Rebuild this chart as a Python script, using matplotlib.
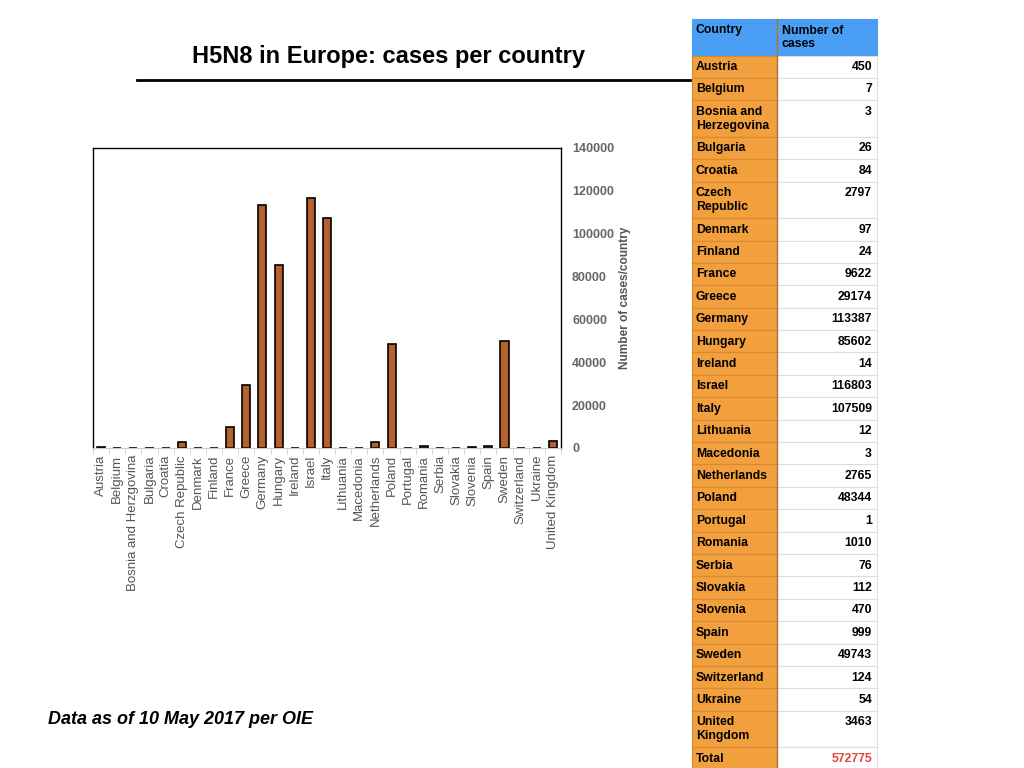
import matplotlib.pyplot as plt
from matplotlib.patches import Rectangle
import numpy as np

plt.rcParams['font.family'] = ['Liberation Sans', 'DejaVu Sans']

# chart data
countries = ["Austria", "Belgium", "Bosnia and Herzgovina", "Bulgaria", "Croatia",
             "Czech Republic", "Denmark", "Finland", "France", "Greece", "Germany",
             "Hungary", "Ireland", "Israel", "Italy", "Lithuania", "Macedonia",
             "Netherlands", "Poland", "Portugal", "Romania", "Serbia", "Slovakia",
             "Slovenia", "Spain", "Sweden", "Switzerland", "Ukraine", "United Kingdom"]
cases = [450, 7, 3, 26, 84, 2797, 97, 24, 9622, 29174, 113387, 85602, 14, 116803,
         107509, 12, 3, 2765, 48344, 1, 1010, 76, 112, 470, 999, 49743, 124, 54, 3463]
yticks = [0, 20000, 40000, 60000, 80000, 100000, 120000, 140000]

# table data
table_names = ["Austria", "Belgium", "Bosnia and\nHerzegovina", "Bulgaria", "Croatia",
               "Czech\nRepublic", "Denmark", "Finland", "France", "Greece", "Germany",
               "Hungary", "Ireland", "Israel", "Italy", "Lithuania", "Macedonia",
               "Netherlands", "Poland", "Portugal", "Romania", "Serbia", "Slovakia",
               "Slovenia", "Spain", "Sweden", "Switzerland", "Ukraine", "United\nKingdom"]
total_cases = 572775

W, H = 1024, 768
fig = plt.figure(figsize=(10.24, 7.68), dpi=100)

# --- bar chart ---
ax = fig.add_axes([93 / W, 1 - 448 / H, 468 / W, 300 / H])
x = np.arange(len(countries))
ax.bar(x, cases, width=0.5, color='#b5612c', edgecolor='black', linewidth=1.2)
ax.set_xlim(-0.5, len(countries) - 0.5)
ax.set_ylim(0, 140000)
ax.set_xticks(x)
ax.set_xticklabels(countries, rotation=90, fontsize=9.5, color='#555555')
ax.set_xticks(np.arange(len(countries) + 1) - 0.5, minor=True)
ax.tick_params(axis='x', which='major', length=0, pad=5)
ax.tick_params(axis='x', which='minor', length=4, color='#cccccc')
ax.yaxis.tick_right()
ax.set_yticks(yticks)
ax.set_yticklabels([str(t) for t in yticks], fontsize=9, fontweight='bold', color='#666666')
ax.tick_params(axis='y', length=0, pad=8)
for s in ['left', 'top', 'right']:
    ax.spines[s].set_color('black')
    ax.spines[s].set_linewidth(1.0)
ax.spines['bottom'].set_color('#cccccc')

fig.text(625 / W, 1 - 298 / H, "Number of cases/country", rotation=90,
         ha='center', va='center', fontsize=8.6, fontweight='bold', color='#555555')

# --- title, rule and note ---
fig.text(388 / W, 1 - 57 / H, "H5N8 in Europe: cases per country", ha='center', va='center',
         fontsize=17, fontweight='bold')
ov = fig.add_axes([0, 0, 1, 1], zorder=-1)
ov.set_xlim(0, W)
ov.set_ylim(H, 0)
ov.axis('off')
ov.plot([137, 690], [80, 80], color='black', lw=2)
fig.text(48 / W, 1 - 720 / H, "Data as of 10 May 2017 per OIE", ha='left', va='center',
         fontsize=13, fontweight='bold', fontstyle='italic')

# --- table ---
tab = fig.add_axes([0, 0, 1, 1])
tab.set_xlim(0, W)
tab.set_ylim(H, 0)
tab.axis('off')
x0, x1, x2 = 692, 777, 877
single, double = 22.4, 36.5
blue, orange = '#4a9ff5', '#f29f3e'
fs = 8.8


def draw_row(y, h, name, value, fc_left, fc_right, vcolor='black'):
    tab.add_patch(Rectangle((x0, y), x1 - x0, h, facecolor=fc_left,
                            edgecolor='#d98a30' if fc_left == orange else fc_left, lw=0.8))
    tab.add_patch(Rectangle((x1, y), x2 - x1, h, facecolor=fc_right,
                            edgecolor='#dddddd' if fc_right == 'white' else fc_right, lw=0.8))
    tab.text(x0 + 4, y + 5.5, name, ha='left', va='top', fontsize=fs, fontweight='bold',
             linespacing=1.2)
    if fc_right == 'white':
        tab.text(x2 - 5, y + 5.5, value, ha='right', va='top', fontsize=fs,
                 fontweight='bold', color=vcolor)
    else:
        tab.text(x1 + 5, y + 5.5, value, ha='left', va='top', fontsize=fs,
                 fontweight='bold', linespacing=1.2)


y = 19
draw_row(y, double, "Country", "Number of\ncases", blue, blue)
y += double
for name, val in zip(table_names, cases):
    h = double if '\n' in name else single
    draw_row(y, h, name, str(val), orange, 'white')
    y += h
draw_row(y, single, "Total", str(total_cases), orange, 'white', vcolor='#e0433a')
tab.plot([x1, x1], [19, H], color='#b07030', lw=1)

fig.savefig('out.png', dpi=100)
